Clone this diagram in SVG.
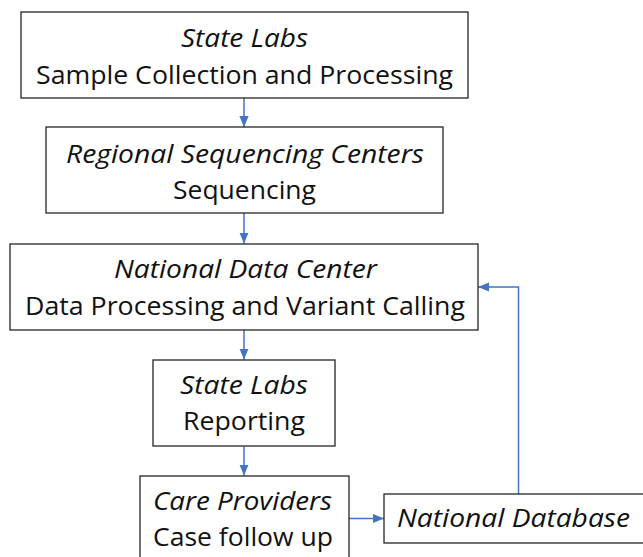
<svg xmlns="http://www.w3.org/2000/svg" width="643" height="557" viewBox="0 0 643 557">
<style>
.box{fill:#fff;stroke:#262626;stroke-width:1.3}
text{font-family:"Open Sans","Noto Sans",sans-serif;font-size:26px;fill:#111;text-anchor:middle}
.i{font-style:italic}
.c{fill:none;stroke:#4472C4;stroke-width:1.5}
</style>
<defs>
<marker id="ah" markerUnits="userSpaceOnUse" markerWidth="11" markerHeight="11" viewBox="0 0 10 10" refX="10" refY="5" orient="auto">
<path d="M0,0.8 L10,5 L0,9.2 Z" fill="#4472C4"/>
</marker>
</defs>
<rect width="643" height="557" fill="#fff"/>
<g id="connectors">
<path class="c" d="M244,98 V127" marker-end="url(#ah)"/>
<path class="c" d="M244,213 V243.5" marker-end="url(#ah)"/>
<path class="c" d="M244,330 V359.5" marker-end="url(#ah)"/>
<path class="c" d="M244,446.5 V475.5" marker-end="url(#ah)"/>
<path class="c" d="M349,518.5 H384" marker-end="url(#ah)"/>
<path class="c" d="M518.5,494 V287 H478" marker-end="url(#ah)"/>
</g>
<g id="n1">
<rect class="box" x="21" y="12" width="447" height="86"/>
<text class="i" x="244.5" y="47" textLength="127" lengthAdjust="spacingAndGlyphs">State Labs</text>
<text x="244.5" y="84" textLength="417" lengthAdjust="spacingAndGlyphs">Sample Collection and Processing</text>
</g>
<g id="n2">
<rect class="box" x="46" y="127" width="397" height="86"/>
<text class="i" x="245" y="163" textLength="358" lengthAdjust="spacingAndGlyphs">Regional Sequencing Centers</text>
<text x="244.5" y="199" textLength="143" lengthAdjust="spacingAndGlyphs">Sequencing</text>
</g>
<g id="n3">
<rect class="box" x="10" y="244" width="468" height="86"/>
<text class="i" x="245.5" y="278" textLength="263" lengthAdjust="spacingAndGlyphs">National Data Center</text>
<text x="245" y="315" textLength="440" lengthAdjust="spacingAndGlyphs">Data Processing and Variant Calling</text>
</g>
<g id="n4">
<rect class="box" x="153" y="360" width="182" height="86"/>
<text class="i" x="244" y="394" textLength="128" lengthAdjust="spacingAndGlyphs">State Labs</text>
<text x="244" y="430" textLength="122" lengthAdjust="spacingAndGlyphs">Reporting</text>
</g>
<g id="n5">
<rect class="box" x="140" y="476" width="209" height="90"/>
<text class="i" x="242.5" y="510" textLength="179" lengthAdjust="spacingAndGlyphs">Care Providers</text>
<text x="243" y="546" textLength="180" lengthAdjust="spacingAndGlyphs">Case follow up</text>
</g>
<g id="n6">
<rect class="box" x="384" y="494" width="270" height="49"/>
<text class="i" x="513.5" y="527" textLength="233" lengthAdjust="spacingAndGlyphs">National Database</text>
</g>
</svg>
